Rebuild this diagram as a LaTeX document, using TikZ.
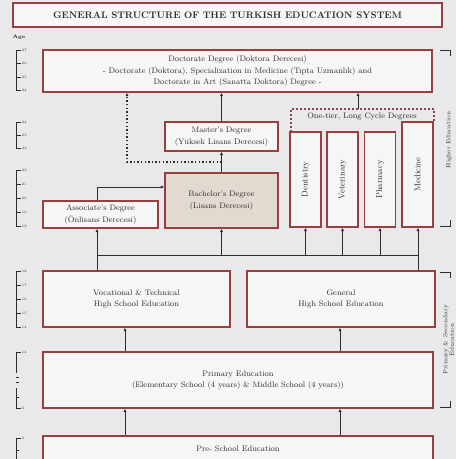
\documentclass[tikz,border=0pt]{standalone}
\usepackage{graphicx}
\usetikzlibrary{arrows.meta,calc}
\definecolor{boxred}{RGB}{152,64,64}
\definecolor{bgray}{RGB}{233,233,235}
\definecolor{boxfill}{RGB}{246,246,246}
\definecolor{bachfill}{RGB}{226,218,209}
\definecolor{linegray}{RGB}{45,45,45}
\begin{document}
\begin{tikzpicture}[x=1pt, y=-1pt,
    level/.style={rectangle, draw=boxred, line width=1.3pt, fill=boxfill, align=center, text=linegray, font=\fontsize{8}{11.5}\selectfont, inner sep=1pt},
    column/.style={level, minimum width=31pt, minimum height=95pt, font=\fontsize{8.5}{10}\selectfont},
    arrow/.style={-{Latex[length=3.5pt,width=3.2pt]}, line width=0.9pt, draw=linegray},
    dotline/.style={line width=1.2pt, draw=linegray, dash pattern=on 1.4pt off 2.2pt},
    agetick/.style={line width=0.8pt, draw=linegray},
    agelabel/.style={font=\fontsize{3.5}{4}\selectfont, text=linegray, inner sep=0.5pt, anchor=west},
    sidelabel/.style={font=\fontsize{6}{6.5}\selectfont, rotate=90, align=center, text=linegray, inner sep=0pt}
  ]
  \useasboundingbox (0,0) rectangle (456,459);
  \clip (0,0) rectangle (456,459);
  \fill[bgray] (0,0) rectangle (456,459);

  % Title
  \node[level, minimum width=429pt, minimum height=24pt, font=\fontsize{9.5}{10}\selectfont\bfseries] (title) at (227.5,15) {GENERAL STRUCTURE OF THE TURKISH EDUCATION SYSTEM};

  % Higher education
  \node[level, minimum width=389pt, minimum height=42pt] (doct) at (237.5,71) {Doctorate Degree (Doktora Derecesi)\\- Doctorate (Doktora), Specialization in Medicine (Tıpta Uzmanlık) and\\Doctorate in Art (Sanatta Doktora) Degree -};
  \node[level, minimum width=113pt, minimum height=29pt] (master) at (221.5,136.5) {Master's Degree\\(Yüksek Lisans Derecesi)};
  \node[level, fill=bachfill, minimum width=113pt, minimum height=55pt] (bach) at (221.5,200.5) {Bachelor's Degree\\(Lisans Derecesi)};
  \node[level, minimum width=115pt, minimum height=27pt] (assoc) at (100.5,214.5) {Associate's Degree\\(Önlisans Derecesi)};

  % One-tier, long cycle degrees
  \draw[boxred, line width=1.3pt, dash pattern=on 2pt off 2pt] (291,132) -- (291,109) -- (434,109) -- (434,122);
  \node[font=\fontsize{8}{10}\selectfont, text=linegray, inner sep=1pt] (lc) at (362,116) {One-tier, Long Cycle Degrees};
  \node[column] (dent) at (305.5,179.5) {\rotatebox{90}{Dentistry}};
  \node[column] (vet) at (342.5,179.5) {\rotatebox{90}{Veterinary}};
  \node[column] (pharm) at (380,179.5) {\rotatebox{90}{Pharmacy}};
  \node[column, minimum height=105pt] (med) at (417.5,174.5) {\rotatebox{90}{Medicine}};

  % Secondary, primary and pre-school
  \node[level, minimum width=187pt, minimum height=56pt] (voc) at (136.5,299) {Vocational \& Technical\\High School Education};
  \node[level, minimum width=188pt, minimum height=56pt] (gen) at (341,299) {General\\High School Education};
  \node[level, minimum width=390pt, minimum height=56pt] (prim) at (238,380) {Primary Education\\(Elementary School (4 years) \& Middle School (4 years))};
  \node[level, minimum width=390pt, minimum height=26pt] (pre) at (238,449) {Pre- School Education};

  % Arrows into higher education
  \coordinate (busL) at (97,255);
  \coordinate (busR) at (418,255);
  \draw[line width=0.9pt, linegray] (busL) -- (busR);
  \draw[arrow] (voc.north -| busL) -- (assoc.south -| busL);
  \draw[arrow] (gen.north -| busR) -- (med.south -| busR);
  \foreach \n in {bach, dent, vet, pharm}
    \draw[arrow] (busL -| \n) -- (\n.south);
  \draw[arrow] (assoc.north -| busL) |- ([yshift=13.5pt]bach.west);

  % Arrows to master and doctorate
  \coordinate (dotL) at (127,162);
  \coordinate (lctop) at (358,109);
  \draw[arrow] (bach) -- (master);
  \draw[arrow] (master) -- (master |- doct.south);
  \draw[dotline, -{Latex[length=3.5pt,width=3.2pt]}] ($(bach.north)!0.5!(master.south)$) -| (doct.south -| dotL);
  \draw[arrow] (lctop) -- (lctop |- doct.south);

  % Arrows for primary and pre-school
  \coordinate (pl) at (125,0);
  \coordinate (pr) at (340,0);
  \draw[arrow] (prim.north -| pl) -- (voc.south -| pl);
  \draw[arrow] (prim.north -| pr) -- (gen.south -| pr);
  \draw[arrow] (pre.north -| pl) -- (prim.south -| pl);
  \draw[arrow] (pre.north -| pr) -- (prim.south -| pr);

  % Age scale
  \node[font=\fontsize{5}{6}\selectfont\bfseries, text=linegray, inner sep=0pt] (age) at (19,37) {Age};
  \foreach \top/\bot in {50/90, 122/148, 170/226, 271/327, 352/373, 388/408, 438/459}
    \draw[agetick] (16,\top) -- (16,\bot);
  \foreach \y/\a in {50/27, 63/26, 77/25, 90/24, 122/24, 135/23, 148/22, 170/22, 184/21, 198/20, 212/19, 226/18, 271/18, 285/17, 299/16, 313/15, 327/14, 352/14, 408/6, 438/6}
    \draw[agetick] (16,\y) -- (21,\y) node[agelabel] {\a};
  \foreach \y in {377, 382, 397, 450}
    \draw[agetick] (16,\y) -- (19,\y);

  % Side labels
  \draw[agetick] (440,50) -- (450,50) -- (450,56);
  \draw[agetick] (440,226) -- (450,226) -- (450,220);
  \node[sidelabel] (higher) at (449,140) {Higher Education};
  \draw[agetick] (440,272) -- (450,272) -- (450,278);
  \draw[agetick] (440,407) -- (450,407) -- (450,401);
  \node[sidelabel] (primsec) at (448.5,340) {Primary \& Secondary\\Education};
\end{tikzpicture}
\end{document}
